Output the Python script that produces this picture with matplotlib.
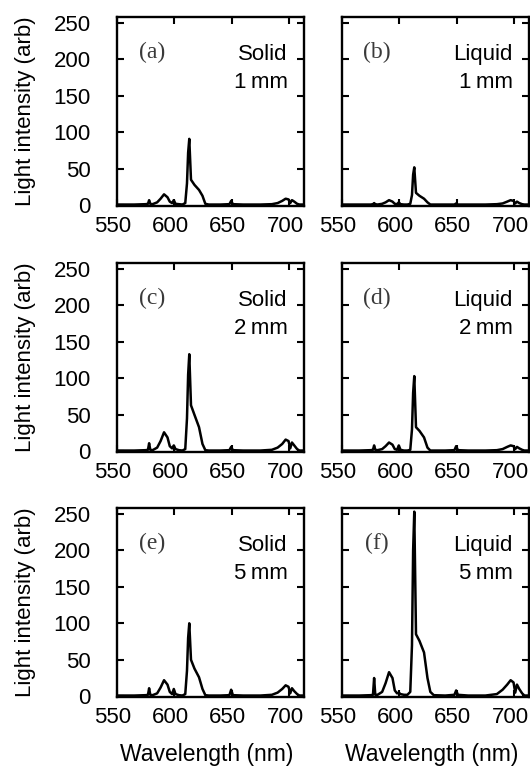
import numpy as np
import matplotlib.pyplot as plt
import matplotlib.transforms as mtransforms

plt.rcParams['font.family'] = ['Liberation Sans', 'DejaVu Sans']
plt.rcParams['axes.facecolor'] = 'white'

# emission spectra, shared wavelength grid (nm)
wavelength = [550, 565, 575, 577, 578, 579, 581, 585, 588, 591, 594, 596, 598, 599.5, 601,
              604, 607, 609.5, 611, 612, 613, 614.5, 617.5, 621.5, 624.5, 627, 630, 640,
              648, 649.5, 651, 660, 675, 685, 690, 694, 697, 699.5, 701, 702.5, 704.5, 707,
              709, 713]

solid_1mm = [1, 1, 1.5, 2, 7, 2, 1.5, 4, 9, 15, 11, 5, 3, 7, 2, 1.5, 1, 3, 30, 72, 91, 35,
             28, 21, 13, 2, 1, 1, 1.5, 6, 1.5, 1, 1, 1.5, 3, 6, 9, 8, 3, 7, 5, 2, 1, 1]
liquid_1mm = [1, 1, 1, 1.5, 3, 1.5, 1, 2, 4, 7, 5, 2, 1.5, 4, 1.5, 1, 1, 2, 14, 42, 52, 17,
              13, 9, 4, 1, 1, 1, 1, 2.5, 1, 1, 1, 1.5, 2.5, 5, 7, 6, 2.5, 5, 3, 1.5, 1, 1]
solid_2mm = [1, 1, 1.5, 2, 11, 2, 1.5, 5, 14, 26, 19, 7, 4, 8, 3, 1.5, 1, 3, 45, 105, 133, 63,
             50, 33, 10, 1.5, 1, 1, 1.5, 6, 1.5, 1, 1, 2, 5, 10, 16, 14, 4, 12, 8, 3, 1, 1]
liquid_2mm = [1, 1, 1.5, 2, 8, 2, 1.5, 3, 7, 12, 9, 3, 2, 8, 2, 1, 1, 2, 30, 80, 103, 33,
              28, 19, 5, 1, 1, 1, 1.5, 7, 1.5, 1, 1, 1.5, 3, 6, 8, 7, 3, 6, 4, 2, 1, 1]
solid_5mm = [1, 1, 1.5, 2, 11, 2, 1.5, 4, 12, 22, 16, 6, 3, 10, 3, 1.5, 1, 3, 35, 80, 100, 50,
             38, 26, 10, 1.5, 1, 1, 1.5, 9, 1.5, 1, 1, 2, 5, 10, 15, 13, 4, 11, 7, 3, 1, 1]
liquid_5mm = [1, 1, 1.5, 2, 25, 2, 2, 6, 18, 33, 25, 8, 4, 5, 3, 2, 2, 6, 70, 200, 253, 85,
              76, 60, 25, 6, 1.5, 1, 2, 8, 2, 1, 1, 3, 9, 16, 22, 19, 5, 16, 10, 4, 1, 1]

spectra = [solid_1mm, liquid_1mm, solid_2mm, liquid_2mm, solid_5mm, liquid_5mm]
panel_tags = ['(a)', '(b)', '(c)', '(d)', '(e)', '(f)']
phases = ['Solid', 'Liquid', 'Solid', 'Liquid', 'Solid', 'Liquid']
thickness = ['1\u2009mm', '1\u2009mm', '2\u2009mm', '2\u2009mm', '5\u2009mm', '5\u2009mm']

xticks = [550, 600, 650, 700]
yticks = [0, 50, 100, 150, 200, 250]

W, H = 530, 773
fig = plt.figure(figsize=(W / 100, H / 100), dpi=100)

col_left = [117, 342]
row_top = [17, 263, 508]
pw, ph = 187, 189

for i, spec in enumerate(spectra):
    r, c = divmod(i, 2)
    x0 = col_left[c] / W
    y0 = 1 - (row_top[r] + ph) / H
    ax = fig.add_axes([x0, y0, pw / W, ph / H])

    ax.plot(wavelength, spec, color='black', lw=1.8)
    ax.set_xlim(550, 713)
    ax.set_ylim(-1, 258)
    ax.set_xticks(xticks)
    ax.set_yticks(yticks)
    ax.tick_params(direction='in', top=True, right=True, length=5, width=1.5,
                   labelsize=16)
    ax.tick_params(axis='y', pad=19)
    ax.tick_params(axis='x', pad=7)
    if c == 1:
        ax.tick_params(labelleft=False)
    for sp in ax.spines.values():
        sp.set_linewidth(1.7)

    # nudge x tick labels slightly left
    shift = mtransforms.ScaledTranslation(-4 / 100, 0, fig.dpi_scale_trans)
    for lab in ax.get_xticklabels():
        lab.set_transform(lab.get_transform() + shift)

    ax.text(0.186, 0.815, panel_tags[i], transform=ax.transAxes, ha='center', va='center',
            fontsize=17, family=['Liberation Serif', 'DejaVu Serif'], color='#3a3a3a')
    ax.text(0.912, 0.80, phases[i], transform=ax.transAxes, ha='right', va='center',
            fontsize=16)
    ax.text(0.912, 0.655, thickness[i], transform=ax.transAxes, ha='right', va='center',
            fontsize=16)

    if c == 0:
        yc = 1 - (row_top[r] + ph / 2) / H
        fig.text(25 / W, yc, 'Light intensity (arb)', rotation=90, ha='center',
                 va='center', fontsize=16)
    if r == 2:
        xc = (col_left[c] + pw / 2 - 4) / W
        fig.text(xc, 1 - 755 / H, 'Wavelength (nm)', ha='center', va='center', fontsize=16.5)

fig.savefig('out.png', dpi=100)
